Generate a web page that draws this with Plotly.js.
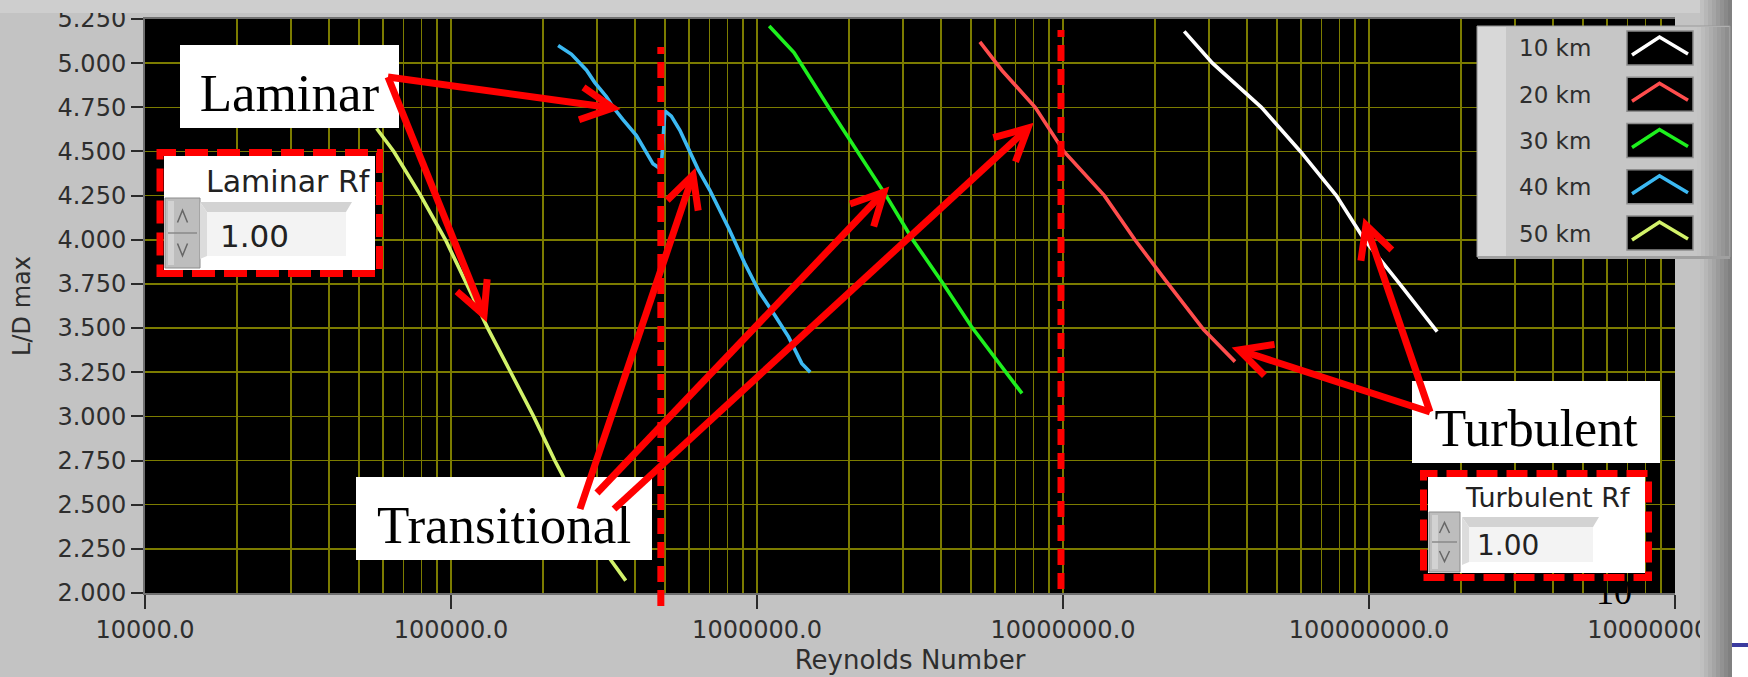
<!DOCTYPE html>
<html>
<head>
<meta charset="utf-8">
<script src="https://cdn.plot.ly/plotly-3.0.1.min.js"></script>
<style>
  html, body { margin: 0; padding: 0; background: #c3c3c3; }
  #chart { width: 1748px; height: 677px; }
</style>
</head>
<body>
<div id="chart"></div>
<script>
// Maximum lift-to-drag ratio against Reynolds number, one curve per altitude
const seriesNames  = ['10 km', '20 km', '30 km', '40 km', '50 km'];
const seriesColors = ['#ffffff', '#ff4d4d', '#1ef01e', '#3cb9f2', '#d2f26a'];

const re10 = [2.49e7, 3.08e7, 4.45e7, 5.97e7, 7.82e7, 9.66e7, 1.26e8, 1.67e8];
const ld10 = [5.18, 5.00, 4.75, 4.50, 4.25, 4.00, 3.75, 3.48];

const re20 = [5.35e6, 6.31e6, 8.11e6, 1.007e7, 1.365e7, 1.718e7, 2.163e7, 2.884e7, 3.648e7];
const ld20 = [5.12, 4.96, 4.75, 4.50, 4.25, 4.00, 3.77, 3.49, 3.31];

const re30 = [1.096e6, 1.321e6, 1.714e6, 2.128e6, 2.642e6, 3.228e6, 4.064e6, 5.012e6, 7.345e6];
const ld30 = [5.21, 5.06, 4.75, 4.50, 4.25, 4.00, 3.75, 3.51, 3.13];

const re40 = [2.239e5, 2.477e5, 2.773e5, 2.951e5, 3.221e5, 3.388e5, 3.648e5, 4.036e5, 4.295e5,
              4.571e5, 4.753e5, 4.875e5, 5.0e5, 5.248e5, 5.598e5, 6.026e5, 6.412e5, 7.015e5,
              7.464e5, 8.11e5, 9.099e5, 1.021e6, 1.146e6, 1.268e6, 1.40e6, 1.493e6];
const ld40 = [5.10, 5.05, 4.96, 4.89, 4.81, 4.75, 4.68, 4.59, 4.51,
              4.43, 4.41, 4.43, 4.73, 4.70, 4.62, 4.50, 4.40, 4.28,
              4.19, 4.06, 3.87, 3.70, 3.57, 3.45, 3.30, 3.25];

const re50 = [5.715e4, 6.501e4, 7.962e4, 9.594e4, 1.125e5, 1.318e5, 1.567e5, 1.862e5, 2.183e5, 2.692e5, 3.319e5, 3.724e5];
const ld50 = [4.63, 4.50, 4.25, 4.00, 3.75, 3.50, 3.25, 3.00, 2.75, 2.45, 2.19, 2.07];

// Laminar/transitional and transitional/turbulent boundaries
const transitionRe = [4.85e5, 9.85e6];

const xTickVals = [1e4, 1e5, 1e6, 1e7, 1e8, 1e9];
const xTickText = ['10000.0', '100000.0', '1000000.0', '10000000.0', '100000000.0', '1000000000.0'];

const regimeLabels = ['Laminar', 'Transitional', 'Turbulent'];
const controlLabels = ['Laminar Rf', 'Turbulent Rf'];
const controlValues = ['1.00', '1.00'];

// ---- page geometry -------------------------------------------------------
const W = 1748, H = 677;
const M = { l: 145, r: 73, t: 19, b: 84 };
const PW = W - M.l - M.r, PH = H - M.t - M.b;
const px = x => (x - M.l) / PW;
const py = y => (H - M.b - y) / PH;

const GRID = '#7c7c00';
const SANS = 'DejaVu Sans';
const SERIF = 'Liberation Serif';

function box(x0, y0, x1, y1, fill, line, extra) {
  return Object.assign({
    type: 'rect', xref: 'paper', yref: 'paper',
    x0: px(x0), x1: px(x1), y0: py(y1), y1: py(y0),
    fillcolor: fill || 'rgba(0,0,0,0)', line: line || { width: 0 }
  }, extra || {});
}
function poly(pts, fill, line, closed) {
  const d = pts.map((p, i) => (i ? 'L' : 'M') + px(p[0]).toFixed(5) + ',' + py(p[1]).toFixed(5)).join(' ') + (closed ? ' Z' : '');
  return { type: 'path', xref: 'paper', yref: 'paper', path: d,
           fillcolor: fill || 'rgba(0,0,0,0)', line: line || { width: 0 } };
}
function arrow(tail, tip) {
  const dx = tail[0] - tip[0], dy = tail[1] - tip[1];
  const L = Math.hypot(dx, dy), ux = dx / L, uy = dy / L;
  const a = 27 * Math.PI / 180, len = 36;
  const arm = s => [tip[0] + len * (ux * Math.cos(s * a) - uy * Math.sin(s * a)),
                    tip[1] + len * (ux * Math.sin(s * a) + uy * Math.cos(s * a))];
  const st = { color: '#ff0000', width: 7 };
  return [poly([tail, tip], null, st), poly([arm(1), tip, arm(-1)], null, st)];
}
function gradientStrip(x0, x1, y0, y1, c0, c1, n) {
  const out = [];
  const lerp = (a, b, t) => Math.round(a + (b - a) * t);
  for (let i = 0; i < n; i++) {
    const t = i / (n - 1);
    const c = `rgb(${lerp(c0, c1, t)},${lerp(c0, c1, t)},${lerp(c0, c1, t)})`;
    const w = (x1 - x0) / n;
    out.push(box(x0 + i * w, y0, x0 + (i + 1) * w + 0.5, y1, c));
  }
  return out;
}
function spinner(x0, y0, x1, y1) {
  const ym = (y0 + y1) / 2, xc = (x0 + x1) / 2;
  return [
    box(x0, y0, x1, y1, '#bdbdbd', { color: '#8c8c8c', width: 1 }),
    box(x0 + 3, y0 + 3, x0 + 9, y1 - 3, '#d2d2d2'),
    poly([[x0 + 3, ym], [x1 - 3, ym]], null, { color: '#8a8a8a', width: 1.5 }),
    poly([[xc - 5, y0 + (ym - y0) * 0.7], [xc, y0 + (ym - y0) * 0.35], [xc + 5, y0 + (ym - y0) * 0.7]], null, { color: '#666', width: 1.5 }),
    poly([[xc - 5, ym + (y1 - ym) * 0.3], [xc, ym + (y1 - ym) * 0.65], [xc + 5, ym + (y1 - ym) * 0.3]], null, { color: '#666', width: 1.5 })
  ];
}
function field(x0, y0, x1, y1, bevel) {
  return [
    poly([[x0, y0], [x1 + 6, y0], [x1, y0 + bevel], [x0 + 7, y0 + bevel]], '#d3d3d3', null, true),
    poly([[x0, y0], [x0 + 7, y0 + bevel], [x0 + 7, y1], [x0, y1 + 3]], '#dcdcdc', null, true),
    box(x0 + 7, y0 + bevel, x1, y1, '#f3f3f3')
  ];
}

// ---- traces --------------------------------------------------------------
const xs = [re10, re20, re30, re40, re50];
const ys = [ld10, ld20, ld30, ld40, ld50];
const traces = xs.map((x, i) => ({
  type: 'scatter', mode: 'lines', name: seriesNames[i],
  x: x, y: ys[i],
  line: { color: seriesColors[i], width: 3.6 },
  showlegend: false, hoverinfo: 'skip'
}));

// minor grid at 2..9 within each decade
const minorVals = [];
for (let d = 4; d < 9; d++) for (let k = 2; k <= 9; k++) minorVals.push(k * Math.pow(10, d));

// ---- overlay shapes --------------------------------------------------------
const shapes = [];
// panel chrome
shapes.push(box(0, 0, 1732, 13, '#cecece'));
shapes.push(...gradientStrip(1700, 1732, 0, 677, 192, 128, 8));
shapes.push(box(1732, 0, 1748, 677, '#ffffff'));
shapes.push(poly([[1732, 645], [1748, 645]], null, { color: '#3b3b9e', width: 4 }));

// regime boundaries
shapes.push({ type: 'line', xref: 'x', yref: 'paper', x0: transitionRe[0], x1: transitionRe[0],
              y0: py(606), y1: py(47), line: { color: '#ff0000', width: 7, dash: '16px,8px' } });
shapes.push({ type: 'line', xref: 'x', yref: 'paper', x0: transitionRe[1], x1: transitionRe[1],
              y0: py(589), y1: py(30), line: { color: '#ff0000', width: 7, dash: '16px,8px' } });

// page number sitting behind the turbulent control
shapes.push(box(1594, 568, 1634, 608, null, null,
  { label: { text: '10', font: { family: SERIF, size: 36, color: '#000' }, textposition: 'middle center' } }));

// regime call-out boxes
const serifLabel = (t, s) => ({ text: t, font: { family: SERIF, size: s, color: '#000' }, textposition: 'middle center' });
shapes.push(box(180, 45, 399, 128, '#ffffff', null, { label: serifLabel(regimeLabels[0], 53) }));
shapes.push(box(356, 477, 652, 560, '#ffffff', null, { label: serifLabel(regimeLabels[1], 53) }));
shapes.push(box(1412, 381, 1660, 463, '#ffffff', null, { label: serifLabel(regimeLabels[2], 52) }));

// arrows from the call-outs to the curves
shapes.push(...arrow([388, 77], [613, 108]));
shapes.push(...arrow([388, 77], [484, 315]));
shapes.push(...arrow([580, 509], [693, 175]));
shapes.push(...arrow([597, 493], [884, 192]));
shapes.push(...arrow([614, 509], [1028, 128]));
shapes.push(...arrow([1430, 412], [1239, 350]));
shapes.push(...arrow([1430, 412], [1366, 225]));

// numeric controls
shapes.push(box(164, 156, 375, 270, '#ffffff'));
shapes.push(box(160, 152.5, 379.5, 273.5, null, { color: '#ff0000', width: 7, dash: '23px,9px' }));
shapes.push(...spinner(165, 198, 200, 268));
shapes.push(...field(200, 202, 346, 256, 10));

shapes.push(box(1428, 477, 1645, 573, '#ffffff'));
shapes.push(box(1423.5, 473.5, 1648.5, 577.5, null, { color: '#ff0000', width: 7, dash: '21px,9px' }));
shapes.push(...spinner(1429, 512, 1460, 572));
shapes.push(...field(1462, 517, 1593, 562, 10));

// legend panel
shapes.push(box(1477, 26, 1730, 257, '#c6c6c6', { color: '#9a9a9a', width: 1 }));
shapes.push(box(1478, 27, 1506, 256, '#d8d8d8'));
shapes.push(...gradientStrip(1697, 1729, 27, 256, 196, 142, 8));
shapes.push(box(1478, 256, 1730, 259, '#a0a0a0'));
const LEG_STEP = 46.25;
seriesColors.forEach((c, i) => {
  const y0 = 31 + i * LEG_STEP;
  shapes.push(box(1627, y0, 1693, y0 + 34, '#000000', { color: '#8c8c8c', width: 1.5 }));
  shapes.push(poly([[1632, y0 + 24], [1659.5, y0 + 6], [1688, y0 + 23]], null, { color: c, width: 3.5 }));
});

// ---- text annotations ------------------------------------------------------
const annotations = [];
const txt = (t, x, y, size, color) => ({
  text: t, xref: 'paper', yref: 'paper', x: px(x), y: py(y), xanchor: 'left', yanchor: 'middle',
  showarrow: false, font: { family: SANS, size: size, color: color || '#222' }
});
annotations.push(txt(controlLabels[0], 204, 181, 30));
annotations.push(txt(controlValues[0], 218, 236, 31));
annotations.push(txt(controlLabels[1], 1463, 497, 27));
annotations.push(txt(controlValues[1], 1475, 545, 28));
seriesNames.forEach((n, i) => annotations.push(txt(n, 1517, 48.5 + i * LEG_STEP, 23, '#2e2e2e')));

// ---- layout ---------------------------------------------------------------
const layout = {
  width: W, height: H,
  margin: { l: M.l, r: M.r, t: M.t, b: M.b, pad: 0 },
  paper_bgcolor: '#c3c3c3', plot_bgcolor: '#000000',
  showlegend: false,
  font: { family: SANS, color: '#2e2e2e' },
  xaxis: {
    type: 'log', range: [4, 9], autorange: false,
    tickmode: 'array', tickvals: xTickVals, ticktext: xTickText,
    ticks: 'outside', ticklen: 14, tickwidth: 2, tickcolor: '#2a2a2a',
    tickfont: { family: SANS, size: 24, color: '#2e2e2e' },
    ticklabeloverflow: 'allow',
    showgrid: true, gridcolor: GRID, gridwidth: 1.6,
    minor: { tickmode: 'array', tickvals: minorVals, showgrid: true, gridcolor: GRID, gridwidth: 1.6, ticks: '' },
    showline: true, linecolor: '#707070', linewidth: 2, mirror: true,
    zeroline: false, automargin: false,
    title: { text: 'Reynolds Number', font: { family: SANS, size: 26, color: '#2e2e2e' }, standoff: 8 }
  },
  yaxis: {
    range: [2, 5.25], autorange: false,
    tick0: 2, dtick: 0.25, tickformat: '.3f',
    ticks: 'outside', ticklen: 12, tickwidth: 2, tickcolor: '#2a2a2a',
    tickfont: { family: SANS, size: 24, color: '#2e2e2e' },
    showgrid: true, gridcolor: GRID, gridwidth: 1.6,
    showline: true, linecolor: '#707070', linewidth: 2,
    zeroline: false, automargin: false,
    title: { text: 'L/D max', font: { family: SANS, size: 24, color: '#2e2e2e' }, standoff: 20 }
  },
  shapes: shapes,
  annotations: annotations
};

Plotly.newPlot('chart', traces, layout, { staticPlot: true, displayModeBar: false });
</script>
</body>
</html>
